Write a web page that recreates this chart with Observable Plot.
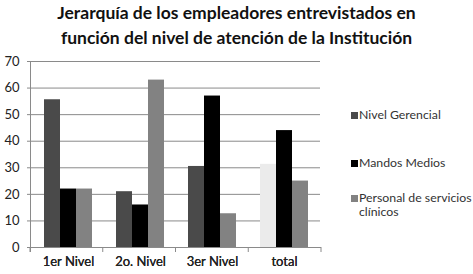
<!DOCTYPE html>
<html>
<head>
<meta charset="utf-8">
<script src="https://cdn.jsdelivr.net/npm/d3@7"></script>
<script src="https://cdn.jsdelivr.net/npm/@observablehq/plot@0.6"></script>
<style>
  html, body { margin: 0; padding: 0; background: #fff; }
  #page { position: relative; width: 473px; height: 274px; overflow: hidden; font-family: Lato, "Open Sans", sans-serif; }
  #title { position: absolute; left: 0; top: 0; width: 473px; text-align: center; font-weight: bold; font-size: 17.5px; line-height: 25px; color: #111; }
  #chart { position: absolute; left: 0; top: 50px; }
  #legend { position: absolute; left: 351px; top: 0; font-size: 12.3px; color: #333; }
  .item { position: absolute; white-space: nowrap; line-height: 14px; }
  .sw { position: absolute; left: 0; width: 7px; height: 7px; }
  .lab { position: absolute; left: 8px; }
</style>
</head>
<body>
<div id="page">
  <div id="title">Jerarquía de los empleadores entrevistados en<br>función del nivel de atención de la Institución</div>
  <div id="chart"></div>
  <div id="legend"></div>
</div>
<script>
const categories = ["1er Nivel", "2o. Nivel", "3er Nivel", "total"];
const series = ["Nivel Gerencial", "Mandos Medios", "Personal de servicios clínicos"];
const nivelGerencial = [55.6, 21, 30.5, 31.3];
const mandosMedios = [22, 16, 57, 44];
const personalServicios = [22, 63, 12.7, 25];
const yTicks = [0, 10, 20, 30, 40, 50, 60, 70];

const colors = ["#4a4a4a", "#000000", "#828282"];
const totalGerencialColor = "#ebebeb";

const values = [nivelGerencial, mandosMedios, personalServicios];
const data = [];
categories.forEach((c, i) => {
  series.forEach((s, j) => data.push({cat: c, series: s, value: values[j][i]}));
});

const fillOf = d => (d.cat === "total" && d.series === series[0]) ? totalGerencialColor : colors[series.indexOf(d.series)];

const plot = Plot.plot({
  width: 473,
  height: 224,
  marginTop: 11,
  marginBottom: 27,
  marginLeft: 30,
  marginRight: 152,
  style: {fontFamily: "Lato, 'Open Sans', sans-serif", fontSize: "13px", color: "#222", background: "transparent"},
  fx: {domain: categories, paddingInner: 0, paddingOuter: 0, label: null, axis: "bottom"},
  x: {domain: series, paddingInner: 0, paddingOuter: 0.73, axis: null},
  y: {domain: [0, 70], label: null},
  marks: [
    Plot.gridY(yTicks, {stroke: "#8a8a8a", strokeOpacity: 1, strokeWidth: 1}),
    Plot.axisY(yTicks, {tickSize: 5, tickPadding: 8, stroke: "#8a8a8a", fill: "#222", fontSize: 13, label: null}),
    Plot.barY(data, {fx: "cat", x: "series", y: "value", fill: fillOf}),
    Plot.axisFx({anchor: "bottom", tickSize: 0, tickPadding: 9, fill: "#222", fontSize: 13, label: null})
  ]
});
document.getElementById("chart").appendChild(plot);

// axis line and band boundary ticks from the library's scales
const fx = plot.scale("fx");
const ys = plot.scale("y");
const svg = d3.select(plot);
const y0 = ys.apply(0), y70 = ys.apply(70);
const r0 = fx.range[0], r1 = fx.range[1];
const n = fx.domain.length;
const g = svg.append("g").attr("stroke", "#8a8a8a").attr("stroke-width", 1);
g.append("line").attr("x1", r0 + 0.5).attr("x2", r0 + 0.5).attr("y1", y70).attr("y2", y0 + 5);
g.append("line").attr("x1", r0).attr("x2", r1).attr("y1", y0 + 0.5).attr("y2", y0 + 0.5);
for (let i = 0; i <= n; i++) {
  const x = r0 + (r1 - r0) * i / n;
  g.append("line").attr("x1", x).attr("x2", x).attr("y1", y0).attr("y2", y0 + 5);
}

// legend
const legendPos = [115, 163, 198];
const legend = document.getElementById("legend");
const labels = [["Nivel Gerencial"], ["Mandos Medios"], ["Personal de servicios", "clínicos"]];
series.forEach((s, i) => {
  const it = document.createElement("div");
  it.className = "item";
  it.style.top = (legendPos[i] - 7) + "px";
  it.innerHTML = `<div class="sw" style="background:${colors[i]};top:4px"></div><div class="lab">${labels[i].join("<br>")}</div>`;
  legend.appendChild(it);
});
</script>
</body>
</html>
